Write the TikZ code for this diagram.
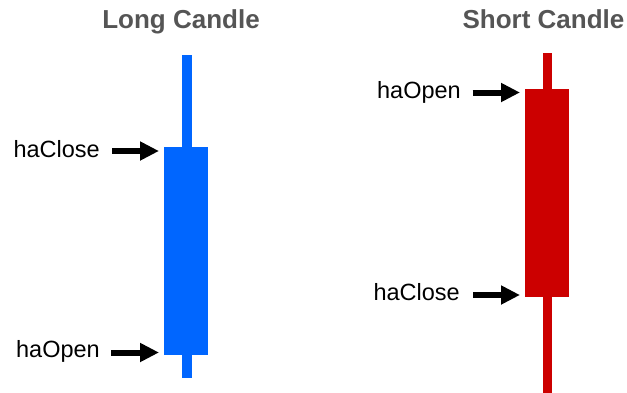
\documentclass[tikz,border=0pt]{standalone}
\usepackage{fontspec}
\setmainfont{Liberation Sans}
\usetikzlibrary{arrows.meta}
\definecolor{candleblue}{HTML}{0066FF}
\definecolor{candlered}{HTML}{CC0000}
\definecolor{titlegray}{HTML}{555555}
\tikzset{
  bar/.style={rectangle, inner sep=0pt, outer sep=0pt, draw=none},
  title/.style={anchor=base, inner sep=0pt, text=titlegray, font=\fontsize{26pt}{30pt}\selectfont\bfseries},
  lbl/.style={anchor=base east, inner sep=0pt, font=\fontsize{23.5pt}{28pt}\selectfont},
  arr/.style={line width=6pt, -{Triangle[length=19pt,width=18pt]}, shorten >=5pt}
}
\begin{document}
\begin{tikzpicture}[x=1pt,y=-1pt]
\useasboundingbox (0,0) rectangle (627,392);
% Long candle
\node[bar, fill=candleblue, minimum width=10pt, minimum height=323pt] (lwick) at (187,216.5) {};
\node[bar, fill=candleblue, minimum width=44pt, minimum height=208pt] (lbody) at (186,251) {};
\node[title] (ltitle) at (181,28) {Long Candle};
\node[lbl] (lclose) at (100,157) {haClose};
\node[lbl] (lopen) at (100,357.5) {haOpen};
\coordinate (lcA) at (112,151);
\coordinate (loA) at (111,352.5);
\draw[arr] (lcA) -- (lbody.west |- lcA);
\draw[arr] (loA) -- (lbody.west |- loA);
% Short candle
\node[bar, fill=candlered, minimum width=9pt, minimum height=340pt] (swick) at (547.5,223) {};
\node[bar, fill=candlered, minimum width=44pt, minimum height=208pt] (sbody) at (547,193) {};
\node[title] (stitle) at (543.5,28) {Short Candle};
\node[lbl] (sopen) at (461,98.5) {haOpen};
\node[lbl] (sclose) at (460,300) {haClose};
\coordinate (soA) at (472.5,92.5);
\coordinate (scA) at (473,295);
\draw[arr] (soA) -- (sbody.west |- soA);
\draw[arr] (scA) -- (sbody.west |- scA);
\end{tikzpicture}
\end{document}
